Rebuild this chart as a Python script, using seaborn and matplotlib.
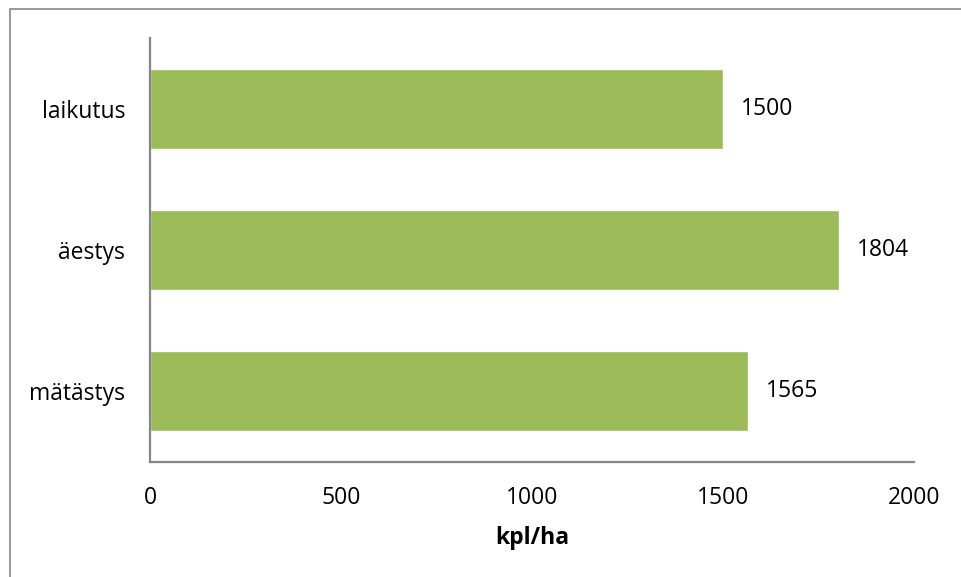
import matplotlib
matplotlib.use("Agg")
import matplotlib.pyplot as plt
from matplotlib.patches import Rectangle
import seaborn as sns
import pandas as pd

categories = ["laikutus", "äestys", "mätästys"]
values = [1500, 1804, 1565]
xticks = [0, 500, 1000, 1500, 2000]
xlabel = "kpl/ha"

sns.set_theme(style="white")
plt.rcParams["font.family"] = ["Open Sans", "DejaVu Sans"]
plt.rcParams["text.color"] = "black"

W, H = 961, 577
fig = plt.figure(figsize=(W / 100, H / 100), dpi=100)
ax = fig.add_axes([150 / W, 1 - 462 / H, (914 - 150) / W, (462 - 38) / H])

df = pd.DataFrame({"cat": categories, "val": values})
sns.barplot(data=df, x="val", y="cat", orient="h", color="#9BBB59",
            saturation=1, width=0.566, ax=ax)

ax.set_xlim(0, 2000)
ax.set_ylim(2.5, -0.5)
ax.set_xticks(xticks)
ax.set_xticklabels([str(t) for t in xticks])
ax.tick_params(axis="both", length=0, labelsize=16.5, colors="black")
ax.tick_params(axis="x", pad=17)
ax.tick_params(axis="y", pad=18)
ax.set_ylabel("")
ax.set_xlabel(xlabel, fontsize=16.5, fontweight="bold", labelpad=12,
              color="black")

for s in ["top", "right"]:
    ax.spines[s].set_visible(False)
for s in ["left", "bottom"]:
    ax.spines[s].set_color("#868686")
    ax.spines[s].set_linewidth(1.6)

for i, v in enumerate(values):
    ax.annotate(str(v), xy=(v, i), xytext=(13, 0), textcoords="offset points",
                va="center", ha="left", fontsize=16.5, color="black")

fig.patches.append(Rectangle((10 / W, -0.1), 1.2, 1 - 9 / H + 0.1,
                             transform=fig.transFigure, fill=False,
                             edgecolor="#868686", linewidth=1.2))

fig.savefig("out.png", dpi=100)
